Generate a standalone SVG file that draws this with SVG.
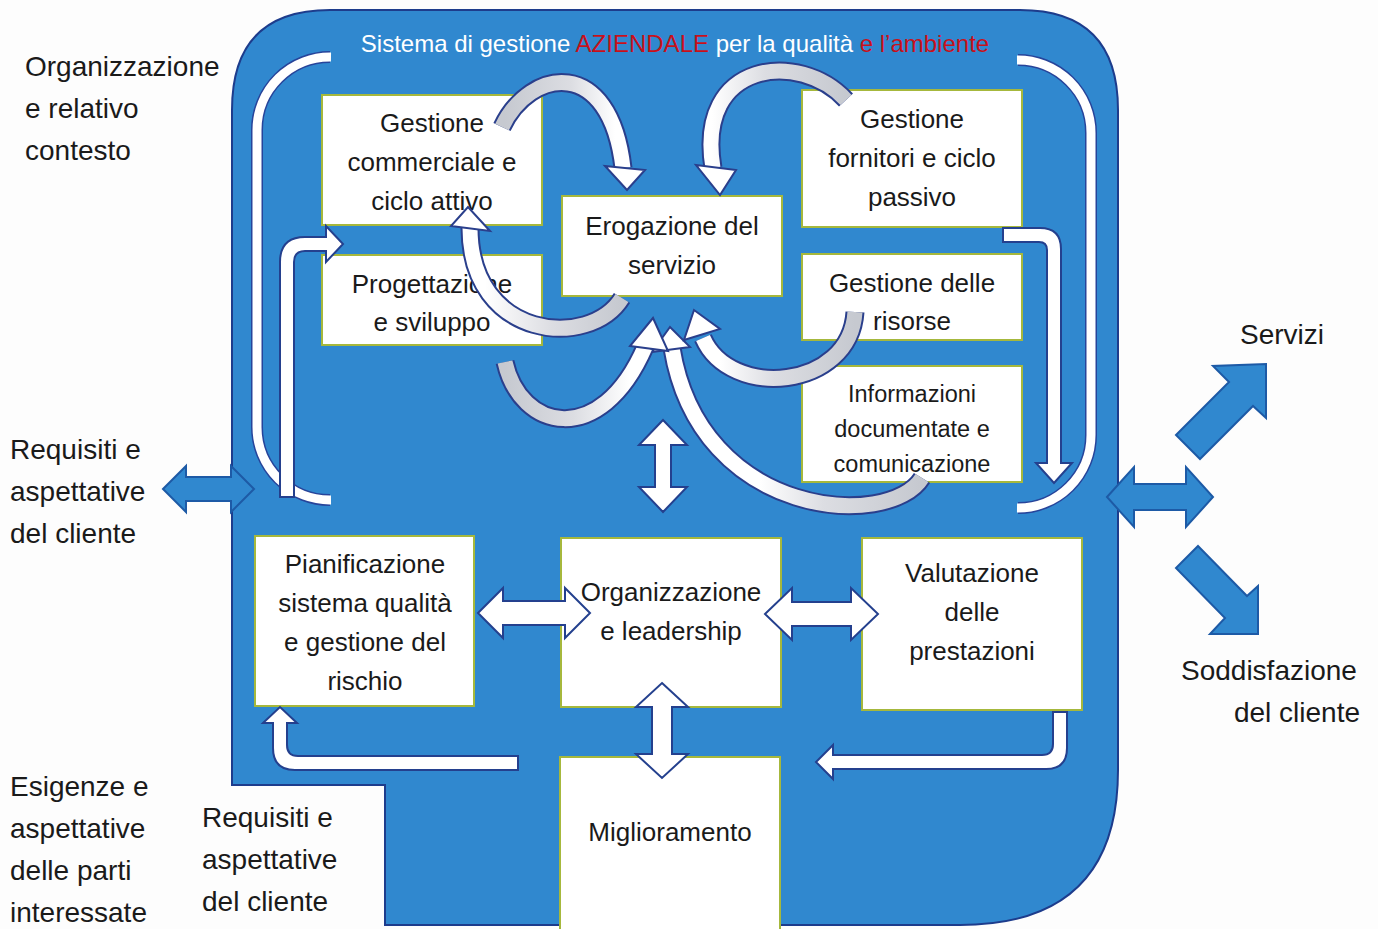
<svg xmlns="http://www.w3.org/2000/svg" width="1378" height="929" viewBox="0 0 1378 929">
<defs>
<style>
.box{fill:#ffffff;stroke:#a6b83c;stroke-width:2}
.bt{font-family:"Liberation Sans",Arial,sans-serif;font-size:26px;fill:#1a1a1a;text-anchor:middle}
.bs{font-size:23.5px}
.ot{font-family:"Liberation Sans",Arial,sans-serif;font-size:28px;fill:#1a1a1a}
.wa{fill:#ffffff;stroke:#24408e;stroke-width:2;stroke-linejoin:miter}
.ba{fill:#3088cf;stroke:#1d5aa6;stroke-width:2}
.brk-o{fill:none;stroke:#27449a;stroke-width:12}
.brk{fill:none;stroke:#ffffff;stroke-width:9}
.rib-o{fill:none;stroke:#2a3f8c;stroke-width:19}
.rh{fill:#ffffff;stroke:#2a3f8c;stroke-width:2;stroke-linejoin:miter}
</style>
<linearGradient id="ga" gradientUnits="userSpaceOnUse" x1="505" y1="0" x2="615" y2="0"><stop offset="0" stop-color="#c6c9d0"/><stop offset="0.6" stop-color="#dcdde2"/><stop offset="1" stop-color="#ffffff"/></linearGradient>
<linearGradient id="gb" gradientUnits="userSpaceOnUse" x1="845" y1="0" x2="712" y2="0"><stop offset="0" stop-color="#c6c9d0"/><stop offset="0.6" stop-color="#dcdde2"/><stop offset="1" stop-color="#ffffff"/></linearGradient>
<linearGradient id="gc" gradientUnits="userSpaceOnUse" x1="620" y1="0" x2="485" y2="0"><stop offset="0" stop-color="#c6c9d0"/><stop offset="0.5" stop-color="#dcdde2"/><stop offset="1" stop-color="#ffffff"/></linearGradient>
<linearGradient id="gd" gradientUnits="userSpaceOnUse" x1="505" y1="0" x2="630" y2="0"><stop offset="0" stop-color="#c6c9d0"/><stop offset="0.55" stop-color="#dcdde2"/><stop offset="1" stop-color="#ffffff"/></linearGradient>
<linearGradient id="ge" gradientUnits="userSpaceOnUse" x1="920" y1="0" x2="760" y2="0"><stop offset="0" stop-color="#c6c9d0"/><stop offset="0.6" stop-color="#dcdde2"/><stop offset="1" stop-color="#ffffff"/></linearGradient>
<linearGradient id="gf" gradientUnits="userSpaceOnUse" x1="855" y1="0" x2="720" y2="0"><stop offset="0" stop-color="#c6c9d0"/><stop offset="0.6" stop-color="#dcdde2"/><stop offset="1" stop-color="#ffffff"/></linearGradient>
</defs>
<rect x="0" y="0" width="1378" height="929" fill="#fdfdfd"/>

<g id="system-frame">
<path d="M 330 10 L 1020 10 Q 1118 10 1118 110 L 1118 770 Q 1118 925 960 925 L 385 925 L 385 785 L 232 785 L 232 110 Q 232 10 330 10 Z" fill="#3088cf" stroke="#1d3c8c" stroke-width="2"/>
<text x="675" y="52" font-family="'Liberation Sans',Arial,sans-serif" font-size="24" fill="#ffffff" text-anchor="middle">Sistema di gestione <tspan fill="#c8101a">AZIENDALE</tspan> per la qualità <tspan fill="#c8101a">e l’ambiente</tspan></text>
</g>

<g id="label-contesto"><text class="ot"><tspan x="25" y="76">Organizzazione</tspan><tspan x="25" y="118">e relativo</tspan><tspan x="25" y="160">contesto</tspan></text></g>
<g id="label-requisiti-1"><text class="ot"><tspan x="10" y="459">Requisiti e</tspan><tspan x="10" y="501">aspettative</tspan><tspan x="10" y="543">del cliente</tspan></text></g>
<g id="label-esigenze"><text class="ot"><tspan x="10" y="796">Esigenze e</tspan><tspan x="10" y="838">aspettative</tspan><tspan x="10" y="880">delle parti</tspan><tspan x="10" y="922">interessate</tspan></text></g>
<g id="label-requisiti-2"><text class="ot"><tspan x="202" y="827">Requisiti e</tspan><tspan x="202" y="869">aspettative</tspan><tspan x="202" y="911">del cliente</tspan></text></g>
<g id="label-servizi"><text class="ot" x="1240" y="344">Servizi</text></g>
<g id="label-soddisfazione"><text class="ot"><tspan x="1181" y="680">Soddisfazione</tspan><tspan x="1360" y="722" text-anchor="end">del cliente</tspan></text></g>

<g id="n-commerciale"><rect class="box" x="322" y="95" width="220" height="130"/><text class="bt"><tspan x="432" y="132">Gestione</tspan><tspan x="432" y="171">commerciale e</tspan><tspan x="432" y="210">ciclo attivo</tspan></text></g>
<g id="n-progettazione"><rect class="box" x="322" y="255" width="220" height="90"/><text class="bt"><tspan x="432" y="293">Progettazione</tspan><tspan x="432" y="331">e sviluppo</tspan></text></g>
<g id="n-erogazione"><rect class="box" x="562" y="196" width="220" height="100"/><text class="bt"><tspan x="672" y="235">Erogazione del</tspan><tspan x="672" y="274">servizio</tspan></text></g>
<g id="n-fornitori"><rect class="box" x="802" y="90" width="220" height="137"/><text class="bt"><tspan x="912" y="128">Gestione</tspan><tspan x="912" y="167">fornitori e ciclo</tspan><tspan x="912" y="206">passivo</tspan></text></g>
<g id="n-risorse"><rect class="box" x="802" y="254" width="220" height="86"/><text class="bt"><tspan x="912" y="292">Gestione delle</tspan><tspan x="912" y="330">risorse</tspan></text></g>
<g id="n-informazioni"><rect class="box" x="802" y="366" width="220" height="116"/><text class="bt bs"><tspan x="912" y="402">Informazioni</tspan><tspan x="912" y="437">documentate e</tspan><tspan x="912" y="472">comunicazione</tspan></text></g>
<g id="n-pianificazione"><rect class="box" x="255" y="536" width="219" height="170"/><text class="bt"><tspan x="365" y="573">Pianificazione</tspan><tspan x="365" y="612">sistema qualità</tspan><tspan x="365" y="651">e gestione del</tspan><tspan x="365" y="690">rischio</tspan></text></g>
<g id="n-organizzazione"><rect class="box" x="561" y="538" width="220" height="169"/><text class="bt"><tspan x="671" y="601">Organizzazione</tspan><tspan x="671" y="640">e leadership</tspan></text></g>
<g id="n-valutazione"><rect class="box" x="862" y="538" width="220" height="172"/><text class="bt"><tspan x="972" y="582">Valutazione</tspan><tspan x="972" y="621">delle</tspan><tspan x="972" y="660">prestazioni</tspan></text></g>
<g id="n-miglioramento"><rect class="box" x="560" y="757" width="220" height="174"/><text class="bt" x="670" y="841">Miglioramento</text></g>

<g id="connectors">
<path class="brk-o" d="M 330 57 A 73 73 0 0 0 257 130 L 257 427 A 73 73 0 0 0 330 500"/>
<path class="brk" d="M 331 57 A 73 73 0 0 0 257 130 L 257 427 A 73 73 0 0 0 331 500"/>
<path class="brk-o" d="M 1018 60 A 73 73 0 0 1 1091 133 L 1091 435 A 73 73 0 0 1 1018 508"/>
<path class="brk" d="M 1017 60 A 73 73 0 0 1 1091 133 L 1091 435 A 73 73 0 0 1 1017 508"/>
<path class="wa" d="M 280 497 L 280 262 Q 280 237 305 237 L 326 237 L 326 226 L 343 244 L 326 262 L 326 251 L 305 251 Q 294 251 294 262 L 294 497 Z"/>
<path class="wa" d="M 1003 228 L 1040 228 Q 1061 228 1061 249 L 1061 463 L 1072 463 L 1054 483 L 1036 463 L 1047 463 L 1047 250 Q 1047 242 1039 242 L 1003 242 Z"/>
<path class="wa" d="M 518 756 L 298 756 Q 287 756 287 745 L 287 723 L 297 723 L 280 707 L 263 723 L 273 723 L 273 748 Q 273 770 295 770 L 518 770 Z"/>
<path class="wa" d="M 1053 712 L 1067 712 L 1067 748 Q 1067 769 1046 769 L 833 769 L 833 779 L 816 762 L 833 745 L 833 755 L 1042 755 Q 1053 755 1053 744 Z"/>
<polygon class="wa" points="663,420 687,445 671,445 671,487 687,487 663,512 639,487 655,487 655,445 639,445"/>
<polygon class="wa" points="662,683 688,707 672,707 672,754 688,754 662,778 636,754 652,754 652,707 636,707"/>
<polygon class="wa" points="478,613 503,588 503,601 565,601 565,588 590,613 565,638 565,625 503,625 503,638"/>
<polygon class="wa" points="765,614 792,588 792,602 851,602 851,588 878,614 851,640 851,626 792,626 792,640"/>
<polygon class="ba" points="163,489 186,466 186,477 231,477 231,466 254,489 231,512 231,501 186,501 186,512"/>
<polygon class="ba" points="1107,497 1134,467 1134,484 1186,484 1186,467 1213,497 1186,527 1186,510 1134,510 1134,527"/>
<polygon class="ba" points="1176,435 1229,382 1213,366 1266,364 1266,418 1253,406 1200,459"/>
<polygon class="ba" points="1198,546 1247,596 1258,586 1258,634 1210,634 1225,618 1176,568"/>
<path class="rib-o" d="M 502 127 C 530 68, 610 55, 623 168"/>
<path fill="none" stroke="url(#ga)" stroke-width="15" d="M 502 127 C 530 68, 610 55, 623 168"/>
<polygon class="rh" points="605,166 645,170 627,190"/>
<path class="rib-o" d="M 846 100 C 800 50, 695 60, 713 168"/>
<path fill="none" stroke="url(#gb)" stroke-width="15" d="M 846 100 C 800 50, 695 60, 713 168"/>
<polygon class="rh" points="696,165 736,170 720,195"/>
<path class="rib-o" d="M 622 298 C 590 350, 470 340, 470 228"/>
<path fill="none" stroke="url(#gc)" stroke-width="15" d="M 622 298 C 590 350, 470 340, 470 228"/>
<polygon class="rh" points="451,226 490,231 468,207"/>
<path class="rib-o" d="M 922 478 C 890 530, 700 520, 672 348"/>
<path fill="none" stroke="url(#ge)" stroke-width="15" d="M 922 478 C 890 530, 700 520, 672 348"/>
<polygon class="rh" points="652,352 690,347 670,327"/>
<path class="rib-o" d="M 505 362 C 520 430, 600 450, 645 347"/>
<path fill="none" stroke="url(#gd)" stroke-width="15" d="M 505 362 C 520 430, 600 450, 645 347"/>
<polygon class="rh" points="630,346 668,351 653,318"/>
<path class="rib-o" d="M 855 312 C 850 390, 730 400, 703 338"/>
<path fill="none" stroke="url(#gf)" stroke-width="15" d="M 855 312 C 850 390, 730 400, 703 338"/>
<polygon class="rh" points="684,340 720,329 694,310"/>
</g>
</svg>
